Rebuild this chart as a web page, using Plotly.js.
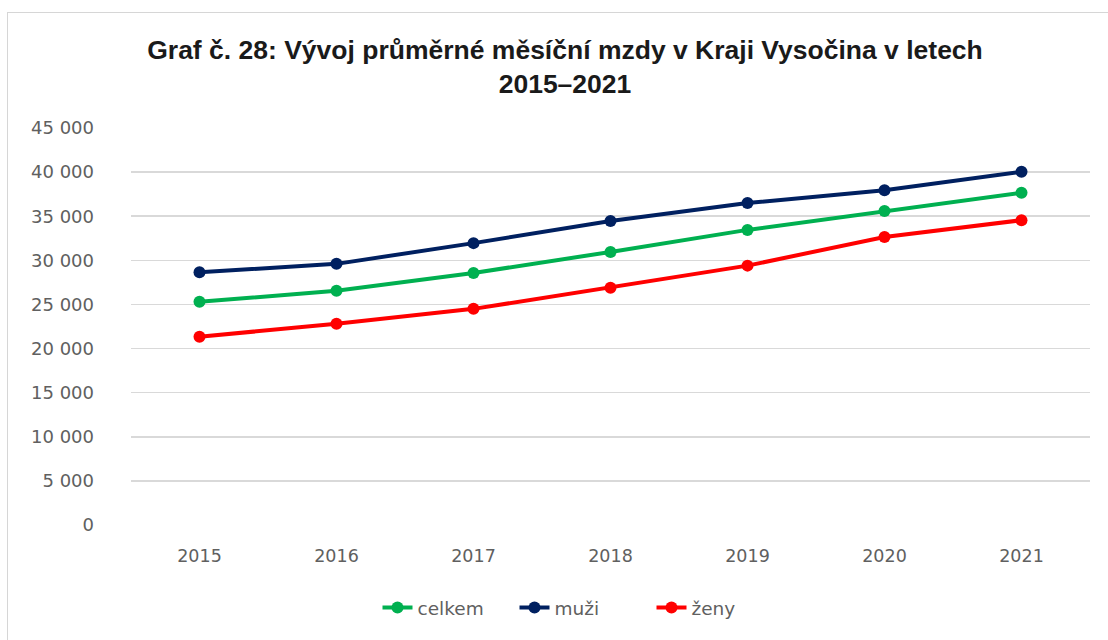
<!DOCTYPE html>
<html>
<head>
<meta charset="utf-8">
<script src="https://cdn.plot.ly/plotly-3.0.1.min.js"></script>
<style>
html,body{margin:0;padding:0;background:#fff;}
#chart{width:1108px;height:640px;}
#frame{position:absolute;left:7px;top:12px;width:1110px;height:640px;border:1.5px solid #d6d6d6;pointer-events:none;}
</style>
</head>
<body>
<div id="chart"></div>
<div id="frame"></div>
<script>
const years = ['2015','2016','2017','2018','2019','2020','2021'];
const celkem = [25300, 26550, 28570, 30950, 33450, 35600, 37650];
const muzi = [28650, 29600, 31950, 34450, 36500, 37950, 40050];
const zeny = [21350, 22800, 24500, 26900, 29400, 32650, 34550];
const seriesNames = ['celkem', 'muži', 'ženy'];
const colors = ['#00B050', '#002060', '#FF0000'];
const titleText = 'Graf č. 28: Vývoj průměrné měsíční mzdy v Kraji Vysočina v letech<br>2015–2021';

const allVals = [celkem, muzi, zeny];
const traces = allVals.map((v, i) => ({
  x: years, y: v, name: seriesNames[i], type: 'scatter', mode: 'lines+markers',
  line: {color: colors[i], width: 4},
  marker: {color: colors[i], size: 12}
}));

const layout = {
  width: 1108, height: 640,
  margin: {l: 131, r: 18, t: 128, b: 115},
  paper_bgcolor: '#ffffff', plot_bgcolor: '#ffffff',
  separators: ', ',
  font: {family: 'DejaVu Sans, sans-serif', color: '#606060', size: 16},
  title: {
    text: titleText,
    font: {family: 'Liberation Sans, Arial, sans-serif', size: 26.5, color: '#1a1a1a', weight: 'bold'},
    xref: 'container', x: 565/1108, xanchor: 'center',
    yref: 'container', y: 1 - 59/640, yanchor: 'middle'
  },
  xaxis: {
    type: 'category', range: [-0.5, 6.5],
    showgrid: false, zeroline: false, showline: false,
    ticks: '', ticklabelstandoff: 18,
    tickfont: {size: 17.5, color: '#606060'}
  },
  yaxis: {
    range: [0, 45000], dtick: 5000, tickformat: ',d',
    showgrid: true, gridcolor: '#d9d9d9', gridwidth: 1.5,
    zeroline: false, showline: false, ticks: '',
    ticklabelstandoff: 36,
    tickfont: {size: 18, color: '#606060'}
  },
  showlegend: true,
  legend: {
    orientation: 'h', x: 583/1108, xanchor: 'center', xref: 'container',
    y: 1 - 608/640, yref: 'container', yanchor: 'middle',
    font: {size: 18.5, color: '#606060'},
    itemwidth: 30, tracegroupgap: 0, entrywidth: 92
  }
};

Plotly.newPlot('chart', traces, layout, {displayModeBar: false, staticPlot: true});
</script>
</body>
</html>
